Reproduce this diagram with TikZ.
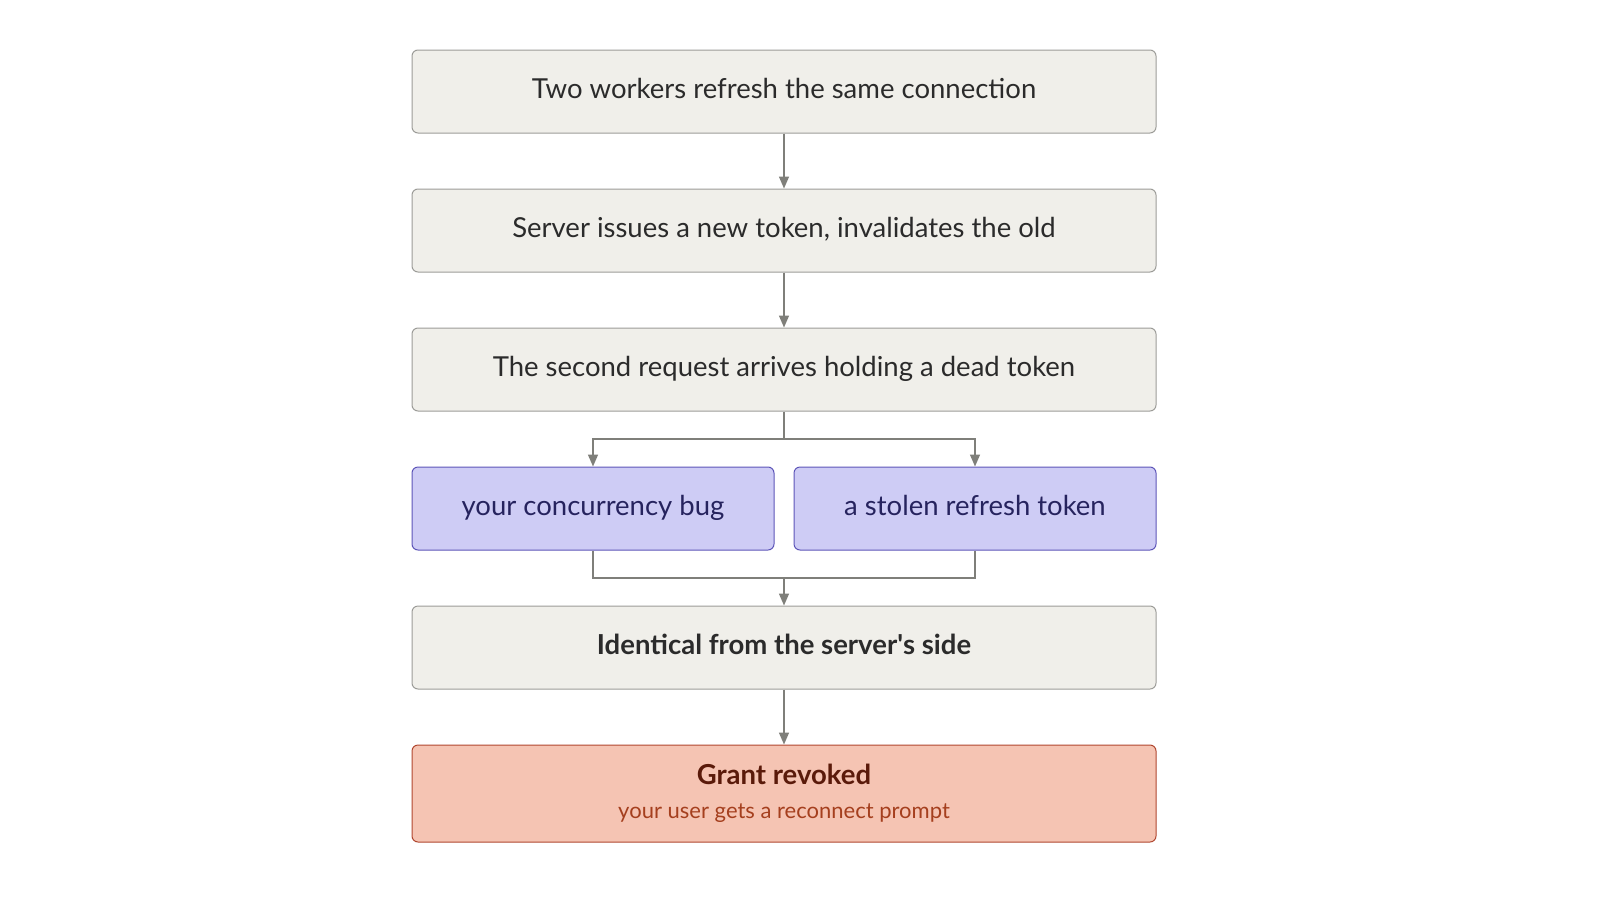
\documentclass[tikz,border=0pt]{standalone}
\usepackage{fontspec}
\setmainfont{Lato}
\usetikzlibrary{arrows.meta}
\definecolor{gfill}{HTML}{F0EFEA}
\definecolor{gdraw}{HTML}{9C9C98}
\definecolor{pfill}{HTML}{CECCF5}
\definecolor{pdraw}{HTML}{5D55B8}
\definecolor{ptext}{HTML}{26235E}
\definecolor{rfill}{HTML}{F5C4B3}
\definecolor{rdraw}{HTML}{B0472F}
\definecolor{rtitle}{HTML}{5A1A0A}
\definecolor{rsub}{HTML}{A53F1E}
\definecolor{gtext}{HTML}{2B2B2B}
\definecolor{arr}{HTML}{7F7F7A}
\begin{document}
\begin{tikzpicture}[x=1pt,y=-1pt,
  box/.style={draw=gdraw,fill=gfill,rounded corners=6pt,line width=1pt,minimum width=744pt,minimum height=83pt,inner sep=0pt,text=gtext,text height=20pt,text depth=6pt,font=\fontsize{27.5}{32}\selectfont},
  pbox/.style={box,draw=pdraw,fill=pfill,text=ptext,minimum width=362pt},
  rbox/.style={box,draw=rdraw,fill=rfill,minimum height=97pt,align=center,text height=,text depth=},
  con/.style={draw=arr,line width=1.5pt,-{Triangle[length=12pt,width=10pt]}},
  lin/.style={draw=arr,line width=1.5pt}]
\useasboundingbox (0,0) rectangle (1600,910);
\node[box] (a) at (784,91.5) {Two workers refresh the same connection};
\node[box] (b) at (784,230.5) {Server issues a new token, invalidates the old};
\node[box] (c) at (784,369.5) {The second request arrives holding a dead token};
\node[pbox] (l) at (593,508.5) {your concurrency bug};
\node[pbox] (r) at (975,508.5) {a stolen refresh token};
\node[box,font=\fontsize{27.5}{32}\selectfont\bfseries] (d) at (784,647.5) {Identical from the server\textquotesingle s side};
\node[rbox] (e) at (784,793.5) {{\color{rtitle}\fontsize{27.5}{32}\selectfont\bfseries Grant revoked}\\[2pt]{\color{rsub}\fontsize{22}{26}\selectfont your user gets a reconnect prompt}};
\coordinate (s) at (784,439);
\coordinate (m) at (784,578);
\draw[con] (a) -- (b);
\draw[con] (b) -- (c);
\draw[lin] (c.south) -- (s);
\draw[con] (s) -| (l.north);
\draw[con] (s) -| (r.north);
\draw[lin] (l.south) |- (m);
\draw[lin] (r.south) |- (m);
\draw[con] (m) -- (d.north);
\draw[con] (d) -- (e);
\end{tikzpicture}
\end{document}
